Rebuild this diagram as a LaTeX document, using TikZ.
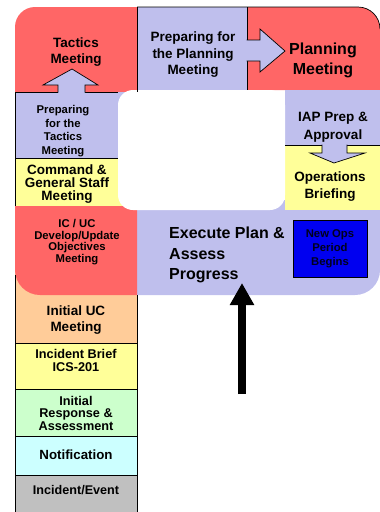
\documentclass[tikz,border=0pt]{standalone}
\usepackage{fontspec}
\setmainfont{Liberation Sans}
\usetikzlibrary{arrows.meta}
\definecolor{rd}{RGB}{255,102,102}
\definecolor{lav}{RGB}{191,191,237}
\definecolor{yel}{RGB}{255,255,153}
\definecolor{pch}{RGB}{255,204,153}
\definecolor{grn}{RGB}{204,255,204}
\definecolor{cyn}{RGB}{204,255,255}
\definecolor{gry}{RGB}{192,192,192}
\definecolor{blu}{RGB}{0,0,240}
\definecolor{navy}{RGB}{0,0,30}
\newcommand{\fsz}[2]{\fontsize{#1}{#2}\selectfont\bfseries}
\begin{document}
\begin{tikzpicture}[x=1pt,y=-1pt,
  txt/.style={align=center,inner sep=0pt},
  edge/.style={draw=black,line width=0.7pt},
  arr/.style={draw=black,line width=0.7pt,line join=miter}]
\useasboundingbox (0,0) rectangle (380,512);
% lower column
\fill[pch] (15,270) rectangle (137,343);
\fill[yel] (15,343) rectangle (137,389);
\fill[grn] (15,389) rectangle (137,436);
\fill[cyn] (15,436) rectangle (137,475);
\fill[gry] (15,475) rectangle (137,512);
% execute
\fill[lav] (137,200) -- (380,200) -- (380,270) arc(0:90:25) -- (137,295) -- cycle;
% IC/UC red
\fill[rd] (15,206) -- (137,206) -- (137,295) -- (40,295) arc(90:180:25) -- cycle;
% upper blocks
\fill[rd] (15,92) -- (15,27) arc(180:270:20) -- (137,7) -- (137,92) -- cycle;
\fill[lav] (137,7) rectangle (247,90);
\fill[rd] (247,7) -- (358,7) arc(270:360:22) -- (380,90) -- (247,90) -- cycle;
\fill[lav] (15,92) rectangle (137,158);
\fill[yel] (15,158) rectangle (137,206);
\fill[lav] (285,90) rectangle (380,145);
\fill[yel] (285,145) rectangle (380,210);
% white centre
\fill[white,rounded corners=15pt] (118,90) rectangle (285,210);
% lines
\draw[edge] (137,7) -- (358,7) arc(270:360:22);
\draw[edge] (137,7) -- (137,92);
\draw[edge] (247,7) -- (247,40) (247,61) -- (247,90);
\draw[edge] (15,92) -- (58,92) (85,92) -- (118,92);
\draw[edge] (15,92) -- (15,206);
\draw[edge] (15,158) -- (118,158);
\draw[edge] (285,145) -- (322,145) (347,145) -- (380,145);
\draw[edge] (15,275) -- (15,512) (137,295) -- (137,512);
\draw[edge] (15,343) -- (137,343) (15,389) -- (137,389) (15,436) -- (137,436) (15,475) -- (137,475);
% block arrows
\filldraw[arr,fill=lav] (58,92.5) -- (58,85) -- (43,85) -- (72,69) -- (98,85) -- (85,85) -- (85,92.5);
\filldraw[arr,fill=lav] (246.5,40) -- (260,40) -- (260,29) -- (285,51) -- (260,72) -- (260,61) -- (246.5,61);
\filldraw[arr,fill=lav] (322,144.5) -- (322,153) -- (310,153) -- (334,163) -- (365,153) -- (347,153) -- (347,144.5);
% texts
\node[txt,font=\fsz{13.5}{16.5}] (tact) at (76,52) {Tactics\\Meeting};
\node[txt,font=\fsz{13.5}{16.5}] (prepplan) at (193,55) {Preparing for\\the Planning\\Meeting};
\node[txt,font=\fsz{16}{19.5}] (plan) at (323,60.5) {Planning\\Meeting};
\node[txt,font=\fsz{11.3}{13.5}] (preptact) at (63,131) {Preparing\\for the\\Tactics\\Meeting};
\node[txt,font=\fsz{13.5}{12.7}] (cgs) at (67,184) {Command \&\\General Staff\\Meeting};
\node[txt,font=\fsz{11.3}{11.7}] (icuc) at (77,242) {IC / UC\\Develop/Update\\Objectives\\Meeting};
\node[txt,font=\fsz{13.5}{18}] (iap) at (333,127) {IAP Prep \&\\Approval};
\node[txt,font=\fsz{13.5}{17}] (ops) at (330,187) {Operations\\Briefing};
\node[txt,font=\fsz{16}{20.5},anchor=west,align=left] (exec) at (169,255) {Execute Plan \&\\Assess\\Progress};
\node[draw=black,line width=0.7pt,fill=blu,minimum width=74pt,minimum height=57pt,txt,
  text=navy,font=\fsz{11.3}{14}] (newops) at (330,248.5) {New Ops\\Period\\Begins};
\node[txt,font=\fsz{13.5}{15.5}] (iuc) at (76,320) {Initial UC\\Meeting};
\node[txt,font=\fsz{12.7}{13}] (brief) at (76,360) {Incident Brief\\ICS-201};
\node[txt,font=\fsz{12.7}{12.5}] (resp) at (76,413) {Initial\\Response \&\\Assessment};
\node[txt,font=\fsz{13.3}{15}] (notif) at (76,455) {Notification};
\node[txt,font=\fsz{12.6}{15}] (event) at (76,490) {Incident/Event};
% big arrow
\coordinate (bs) at (242,394);
\coordinate (bt) at (242,283);
\draw[line width=8pt,-{Triangle[width=23pt,length=22pt]}] (bs) -- (bt);
\end{tikzpicture}
\end{document}
